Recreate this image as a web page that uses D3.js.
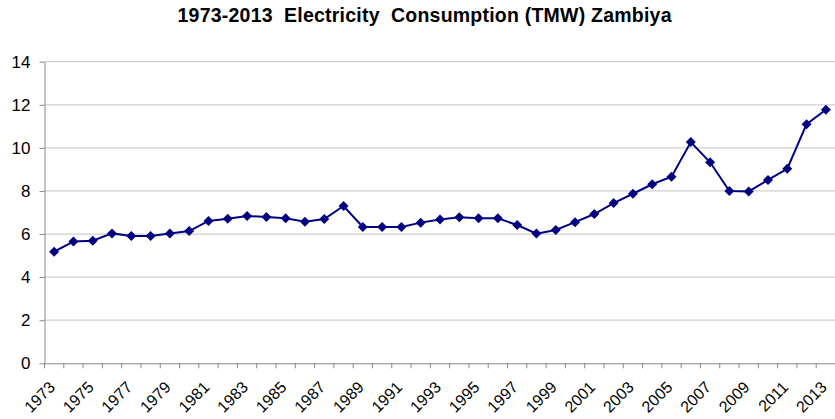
<!DOCTYPE html>
<html><head><meta charset="utf-8">
<script src="https://cdn.jsdelivr.net/npm/d3@7"></script>
<style>body{margin:0;background:#fff}svg{display:block}text{font-family:"Liberation Sans",Arial,sans-serif}</style>
</head><body>
<script>
const years = d3.range(1973, 2014);
const consumption = [5.18,5.65,5.69,6.03,5.91,5.91,6.02,6.14,6.61,6.71,6.84,6.79,6.73,6.57,6.70,7.30,6.33,6.33,6.33,6.53,6.67,6.78,6.73,6.73,6.42,6.02,6.19,6.55,6.93,7.44,7.87,8.31,8.66,10.27,9.33,8.00,7.98,8.51,9.03,11.10,11.77];
const yTicks = [0,2,4,6,8,10,12,14];
const titleText = "1973-2013  Electricity  Consumption (TMW) Zambiya";

const W = 835, H = 419;
const m = {left: 44.5, right: 0, top: 61.7, bottom: 55.7};
const svg = d3.select("body").append("svg").attr("width", W).attr("height", H);

const x = d3.scaleBand().domain(years).range([m.left, W - m.right + 0.5]);
const y = d3.scaleLinear().domain([0, 14]).range([H - m.bottom, m.top]);

svg.append("text").attr("x", 424.5).attr("y", 22).attr("text-anchor", "middle")
  .style("font-size", "19.5px").style("font-weight", "bold").style("white-space", "pre")
  .attr("textLength", 494).attr("lengthAdjust", "spacing")
  .text(titleText);

// gridlines
svg.append("g").selectAll("line").data(yTicks.filter(d => d > 0)).join("line")
  .attr("x1", m.left).attr("x2", W).attr("y1", d => y(d)).attr("y2", d => y(d))
  .attr("stroke", "#cfcfcf").attr("stroke-width", 1.2);

// y axis
const ya = svg.append("g").attr("transform", `translate(${m.left},0)`)
  .call(d3.axisLeft(y).tickValues(yTicks).tickSize(5).tickPadding(9).tickSizeOuter(0));
ya.select(".domain").attr("stroke", "#888");
ya.selectAll(".tick line").attr("stroke", "#888");
ya.selectAll("text").style("font-size", "17px").attr("fill", "#000").style("font-family", "Liberation Sans, Arial, sans-serif");

// x axis
const xa = svg.append("g").attr("transform", `translate(0,${y(0)})`)
  .call(d3.axisBottom(x).tickValues([]).tickSizeOuter(0));
xa.select(".domain").attr("stroke", "#888");
const bounds = years.map(d => x(d)).concat([x(years[years.length-1]) + x.bandwidth()]);
xa.append("g").selectAll("line").data(bounds).join("line")
  .attr("x1", d => d).attr("x2", d => d).attr("y1", 0).attr("y2", 5).attr("stroke", "#888");
xa.append("g").selectAll("text").data(years.filter((d, i) => i % 2 === 0)).join("text")
  .attr("transform", d => `translate(${x(d) + x.bandwidth()/2 - 2},${21}) rotate(-45)`)
  .attr("text-anchor", "end").attr("dy", "0.35em")
  .style("font-size", "16px").attr("fill", "#000").text(d => d);

// line
const cx = d => x(d) + x.bandwidth() / 2;
svg.append("path").datum(years.map((d, i) => [d, consumption[i]]))
  .attr("fill", "none").attr("stroke", "#000080").attr("stroke-width", 2)
  .attr("d", d3.line().x(d => cx(d[0])).y(d => y(d[1])));

svg.append("g").selectAll("path").data(years.map((d, i) => [d, consumption[i]])).join("path")
  .attr("transform", d => `translate(${cx(d[0])},${y(d[1])})`)
  .attr("d", "M0,-5L5,0L0,5L-5,0Z").attr("fill", "#000080");
</script>
</body></html>
